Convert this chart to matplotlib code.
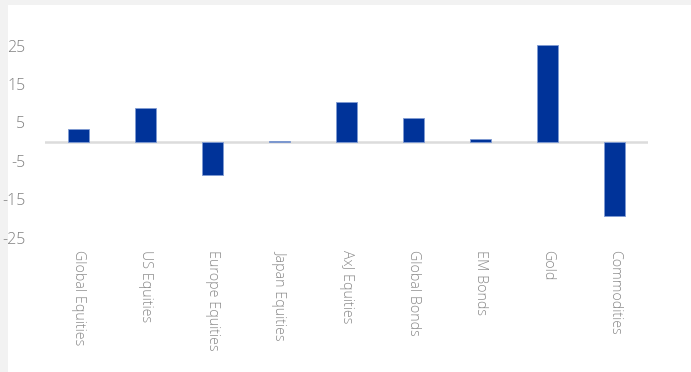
import matplotlib.pyplot as plt
from matplotlib.patches import Rectangle

categories = ["Global Equities", "US Equities", "Europe Equities", "Japan Equities",
              "AxJ Equities", "Global Bonds", "EM Bonds", "Gold", "Commodities"]
values = [3.3, 8.7, -8.8, 0.2, 10.4, 6.3, 0.7, 25.2, -19.3]
yticks = [25, 15, 5, -5, -15, -25]

plt.rcParams["font.family"] = ["Open Sans", "DejaVu Sans"]

W, H = 691, 372
fig = plt.figure(figsize=(W / 100, H / 100), dpi=100)
fig.patch.set_facecolor("#f2f2f2")
fig.patches.append(Rectangle((8 / W, 0), 1, (H - 5) / H, transform=fig.transFigure,
                             facecolor="white", edgecolor="none", zorder=-1))

ymin, ymax = -27, 27
scale = 3.84
zero_px = 141.7
top_px = zero_px - ymax * scale
bot_px = zero_px - ymin * scale
ax = fig.add_axes([45 / W, (H - bot_px) / H, (648 - 45) / W, (bot_px - top_px) / H])
ax.set_facecolor("none")
ax.set_zorder(2)

x = range(len(categories))
ax.bar(x, values, width=0.31, color="#003399", edgecolor="#7f9bd3", linewidth=0.6, zorder=3)
ax.axhline(0, color="#dcdcdc", linewidth=1.8, zorder=2)

ax.set_xlim(-0.5, len(categories) - 0.5)
ax.set_ylim(ymin, ymax)
ax.set_yticks(yticks)
ax.set_yticklabels([str(v) for v in yticks])
ax.set_xticks(list(x))
ax.set_xticklabels(categories, rotation=270, ha="center", va="top")

ax.tick_params(axis="y", length=0, pad=14, labelsize=11.5, labelcolor="#808080")
ax.tick_params(axis="x", length=0, pad=3, labelsize=10.3, labelcolor="#8a8a8a")
for lbl in ax.get_xticklabels() + ax.get_yticklabels():
    lbl.set_fontweight("light")
for s in ax.spines.values():
    s.set_visible(False)

fig.savefig("out.png", dpi=100)
